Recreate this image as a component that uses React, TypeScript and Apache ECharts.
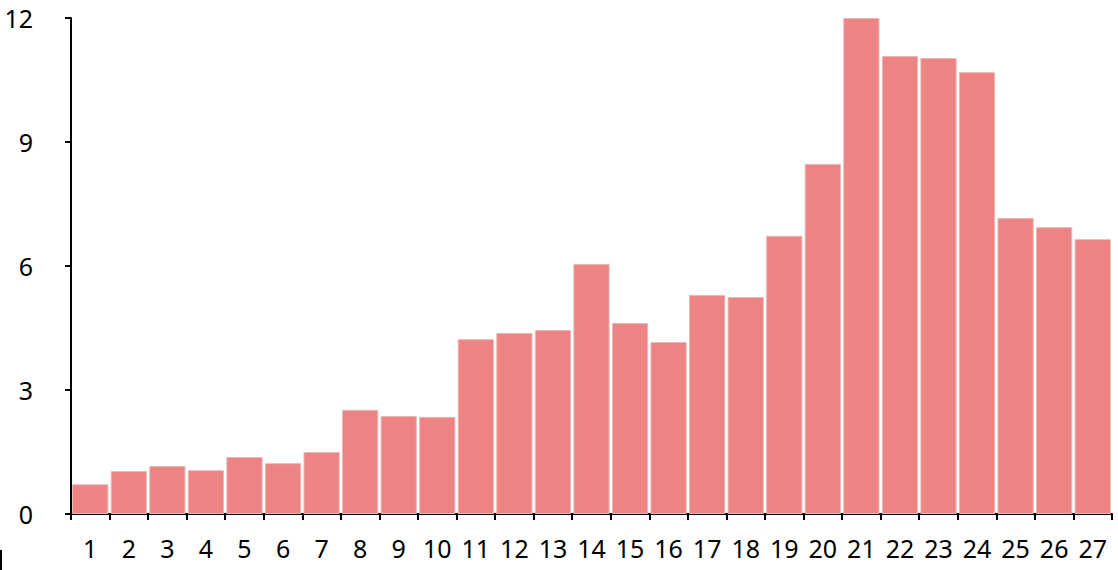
import React, { useEffect, useRef } from "react";
import * as echarts from "echarts";

const categories = ["1","2","3","4","5","6","7","8","9","10","11","12","13","14","15","16","17","18","19","20","21","22","23","24","25","26","27"];
const values = [0.72, 1.04, 1.16, 1.06, 1.38, 1.23, 1.5, 2.52, 2.37, 2.35, 4.23, 4.38, 4.45, 6.05, 4.62, 4.16, 5.3, 5.25, 6.73, 8.47, 12.0, 11.08, 11.03, 10.69, 7.16, 6.94, 6.65];
const yTicks = [0, 3, 6, 9, 12];

export default function App() {
  const ref = useRef<HTMLDivElement>(null);
  useEffect(() => {
    const chart = echarts.init(ref.current!, null, { renderer: "svg" });
    const font = "Noto Sans";
    chart.setOption({
      animation: false,
      grid: { left: 71, right: 6, top: 18, bottom: 56, containLabel: false },
      xAxis: {
        type: "category",
        data: categories,
        axisLine: { show: true, lineStyle: { color: "#000", width: 2 } },
        axisTick: { show: true, alignWithLabel: false, length: 6, lineStyle: { color: "#000", width: 2 } },
        axisLabel: { color: "#000", fontSize: 25, fontFamily: font, margin: 21, interval: 0 },
        splitLine: { show: false },
      },
      yAxis: {
        type: "value",
        min: yTicks[0],
        max: yTicks[yTicks.length - 1],
        interval: 3,
        axisLine: { show: true, lineStyle: { color: "#000", width: 2 } },
        axisTick: { show: true, length: 6, lineStyle: { color: "#000", width: 2 } },
        axisLabel: { color: "#000", fontSize: 25, fontFamily: font, margin: 38 },
        splitLine: { show: false },
      },
      graphic: [
        { type: "rect", shape: { x: 0, y: 550, width: 2, height: 20 }, style: { fill: "#000" } },
      ],
      series: [
        {
          type: "bar",
          data: values,
          barCategoryGap: "6%",
          itemStyle: { color: "#EE8383", borderColor: "#E6B8B8", borderWidth: 1 },
        },
      ],
    });
    return () => chart.dispose();
  }, []);
  return <div ref={ref} style={{ width: 1118, height: 570, position: "absolute", left: 0, top: 0 }} />;
}
